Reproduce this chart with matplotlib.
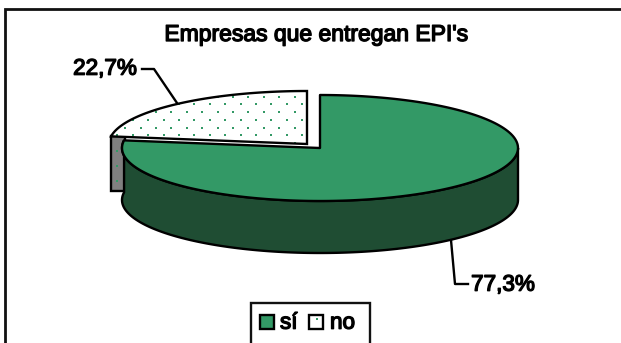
import numpy as np
import matplotlib
matplotlib.use("Agg")
import matplotlib.pyplot as plt
import matplotlib.patheffects as pe
from matplotlib.patches import Polygon, Rectangle

categories = ["sí", "no"]
shares = [77.3, 22.7]
labels = ["77,3%", "22,7%"]
title = "Empresas que entregan EPI's"

GREEN = "#339966"
DARK = "#1f4d33"
GREY = "#808080"
LW = 1.7

plt.rcParams["font.family"] = ["Liberation Sans", "DejaVu Sans"]
plt.rcParams["text.hinting"] = "none"

fig = plt.figure(figsize=(6.21, 3.43), dpi=100)
ax = fig.add_axes([0, 0, 1, 1])
ax.set_xlim(0, 621)
ax.set_ylim(343, 0)
ax.axis("off")

# outer frame, runs off the right and bottom of the picture
ax.add_patch(Rectangle((5, 9), 640, 345, fc="white", ec="#111111", lw=LW + 0.3, zorder=0))

rx, ry, depth = 198, 53, 52
cx, cy = 320, 148
cx2, cy2 = 307, 144


def arc(x0, y0, a0, a1, n=200):
    # angles are clockwise from 12 o'clock, like the pie is drawn
    t = np.radians(np.linspace(a0, a1, n))
    return np.column_stack([x0 + rx * np.sin(t), y0 - ry * np.cos(t)])


def label(x, y, s, ha="center", size=16.2):
    # thin stroke gives the heavy look of the original text
    t = ax.text(x, y, s, ha=ha, va="center", fontsize=size, color="black", zorder=9)
    t.set_path_effects([pe.withStroke(linewidth=1.0, foreground="black")])
    return t


split = 360 * shares[0] / sum(shares)

# the "no" slice, pulled out to the upper left
no_top = np.vstack([[[cx2, cy2]], arc(cx2, cy2, split, 360)])
corner = no_top[1]
side = Rectangle((corner[0], corner[1]), 14, depth + 3, fc=GREY, ec="black", lw=LW, zorder=1)
ax.add_patch(side)
top_patch = Polygon(no_top, closed=True, fc="white", ec="none", zorder=2)
ax.add_patch(top_patch)

# dot texture
dx, dy = 15.4, 7.7
pts = []
for i, yy in enumerate(np.arange(96.7, 190, dy)):
    start = 102 + (dx / 2 if i % 2 == 0 else 0)
    for xx in np.arange(start, 310, dx):
        pts.append((xx, yy))
pts = np.array(pts)
d1 = ax.scatter(pts[:, 0], pts[:, 1], s=3, marker="s", color=GREEN, lw=0, zorder=3)
d1.set_clip_path(top_patch)
d2 = ax.scatter(pts[:, 0], pts[:, 1], s=3, marker="s", color=GREEN, lw=0, zorder=1.5)
d2.set_clip_path(side)
ax.add_patch(Polygon(no_top, closed=True, fc="none", ec="black", lw=LW, zorder=3.5))

# the "sí" slice: wall first, top face over it
lower = arc(cx, cy, 90, split)
wall = np.vstack([lower, lower[::-1] + [0, depth]])
ax.add_patch(Polygon(wall, closed=True, fc=DARK, ec="black", lw=LW, zorder=4))
si_top = np.vstack([[[cx, cy]], arc(cx, cy, 0, split)])
ax.add_patch(Polygon(si_top, closed=True, fc=GREEN, ec="black", lw=LW, joinstyle="round", zorder=5))

# title and labels
label(316, 35, title, size=16.5)
label(105, 69, labels[1])
label(503, 285, labels[0])

# leader lines
ax.plot([142, 154, 177], [69, 69, 103], color="black", lw=LW, zorder=6)
ax.plot([451, 455, 468], [240, 284, 284], color="black", lw=LW, zorder=3)

# legend
ax.add_patch(Rectangle((251, 303), 119, 50, fc="white", ec="#111111", lw=LW, zorder=6))
ax.add_patch(Rectangle((259.5, 315), 14, 14, fc=GREEN, ec="black", lw=LW, zorder=7))
ax.add_patch(Rectangle((309, 315), 14, 14, fc="white", ec="black", lw=LW, zorder=7))
ax.scatter([316.5], [319], s=3, marker="s", color=GREEN, lw=0, zorder=8)
label(280, 323, categories[0], ha="left")
label(330, 323, categories[1], ha="left")

fig.savefig("out.png", dpi=100)
